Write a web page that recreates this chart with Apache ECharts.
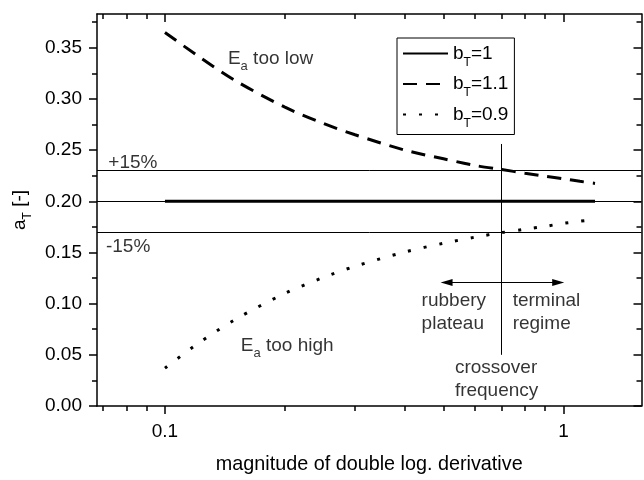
<!DOCTYPE html>
<html><head><meta charset="utf-8">
<script src="https://cdn.jsdelivr.net/npm/echarts@6/dist/echarts.min.js"></script>
<style>html,body{margin:0;padding:0;background:#fff}#c{width:644px;height:480px}</style>
</head><body><div id="c"></div>
<script>
// ---- data ----
const xValues = [0.1, 0.12, 0.15, 0.2, 0.25, 0.3, 0.4, 0.5, 0.6, 0.7, 0.8, 0.9, 1.0, 1.1, 1.2];
const aT_b1   = [0.2, 0.2, 0.2, 0.2, 0.2, 0.2, 0.2, 0.2, 0.2, 0.2, 0.2, 0.2, 0.2, 0.2, 0.2];
const aT_b11  = [0.365, 0.343, 0.318, 0.292, 0.276, 0.265, 0.250, 0.2415, 0.235, 0.231, 0.2275, 0.2245, 0.222, 0.2195, 0.2175];
const aT_b09  = [0.037, 0.060, 0.0845, 0.110, 0.1257, 0.1365, 0.1505, 0.159, 0.165, 0.1694, 0.1727, 0.1755, 0.1785, 0.1805, 0.1822];
const seriesNames = ['1', '1.1', '0.9'];
const xMajorTicks = [0.1, 1];
const xMinorTicks = [0.07, 0.08, 0.09, 0.2, 0.3, 0.4, 0.5, 0.6, 0.7, 0.8, 0.9];
const yMajorTicks = [0, 0.05, 0.1, 0.15, 0.2, 0.25, 0.3, 0.35];
const yMinorTicks = [0.025, 0.075, 0.125, 0.175, 0.225, 0.275, 0.325, 0.375];
const refLevels = [0.23, 0.2, 0.17];
const crossover = 0.7;
const crossoverSpan = [0.256, 0.05];
const arrowY = 0.1206;
const arrowSpan = [0.509, 0.97];
const annotations = [
  {x: 0.1439, y: 0.3392, text: '{m|E}{s|a}{m| too low}'},
  {x: 0.155,  y: 0.0585, text: '{m|E}{s|a}{m| too high}'},
  {x: 0.0721, y: 0.2379, text: '+15%'},
  {x: 0.0711, y: 0.1558, text: '-15%'},
  {x: 0.4406, y: 0.0919, text: 'rubbery\nplateau'},
  {x: 0.7456, y: 0.0919, text: 'terminal\nregime'},
  {x: 0.534,  y: 0.0261, text: 'crossover\nfrequency'}
];

const FONT = 'Liberation Sans, Arial, Helvetica, sans-serif';
const X_MIN = 0.06753, X_MAX = 1.5697, Y_MIN = 0, Y_MAX = 0.383;
const zip = (xs, ys) => xs.map((x, i) => [x, ys[i]]);

function xAxisCfg(pos, ticks, len, inside, withLine, withLabel) {
  return {
    type: 'log', logBase: 10, min: X_MIN, max: X_MAX, position: pos, gridIndex: 0,
    axisLine: {show: withLine, onZero: false, lineStyle: {color: '#000', width: 1.5}},
    axisTick: {show: true, inside: inside, length: len, customValues: ticks, lineStyle: {color: '#000', width: 1.5}},
    axisLabel: withLabel ? {show: true, customValues: ticks, margin: 16, color: '#000', fontSize: 19, fontFamily: FONT,
      formatter: v => String(+v.toPrecision(3))} : {show: false},
    splitLine: {show: false}, minorTick: {show: false}
  };
}
function yAxisCfg(pos, ticks, len, inside, withLine, withLabel) {
  return {
    type: 'value', min: Y_MIN, max: Y_MAX, position: pos, gridIndex: 0,
    axisLine: {show: withLine, onZero: false, lineStyle: {color: '#000', width: 1.5}},
    axisTick: {show: true, inside: inside, length: len, customValues: ticks, lineStyle: {color: '#000', width: 1.5}},
    axisLabel: withLabel ? {show: true, customValues: ticks, margin: 15, color: '#000', fontSize: 19, fontFamily: FONT,
      formatter: v => v.toFixed(2)} : {show: false},
    splitLine: {show: false}
  };
}

const xBottom = xAxisCfg('bottom', xMajorTicks, 8, false, true, true);
xBottom.name = 'magnitude of double log. derivative';
xBottom.nameLocation = 'middle';
xBottom.nameGap = 49;
xBottom.nameTextStyle = {color: '#000', fontSize: 19.8, fontFamily: FONT};

const yLeft = yAxisCfg('left', yMajorTicks, 8, false, true, true);
yLeft.name = '{m|a}{s|T}{m| [-]}';
yLeft.nameLocation = 'middle';
yLeft.nameRotate = 90;
yLeft.nameGap = 58;
yLeft.nameTextStyle = {color: '#000', fontSize: 19, fontFamily: FONT,
  rich: {m: {fontSize: 19, lineHeight: 28, fontFamily: FONT, color: '#000'},
         s: {fontSize: 12, lineHeight: 8, verticalAlign: 'bottom', fontFamily: FONT, color: '#000'}}};

const lineBase = {type: 'line', xAxisIndex: 0, yAxisIndex: 0, symbol: 'none', showSymbol: false,
  smooth: 0.3, animation: false, itemStyle: {color: '#000'}};

const option = {
  animation: false,
  backgroundColor: '#fff',
  grid: {left: 97, right: 2.5, top: 14, bottom: 64.5, containLabel: false},
  xAxis: [
    xBottom,
    xAxisCfg('bottom', xMinorTicks, 5, false, false, false),
    xAxisCfg('top', xMajorTicks, 8, true, true, false),
    xAxisCfg('top', xMinorTicks, 5, true, false, false)
  ],
  yAxis: [
    yLeft,
    yAxisCfg('left', yMinorTicks, 5, false, false, false),
    yAxisCfg('right', yMajorTicks, 8, true, true, false),
    yAxisCfg('right', yMinorTicks, 5, true, false, false)
  ],
  legend: {
    data: seriesNames, orient: 'vertical', left: 397, top: 38,
    backgroundColor: '#fff', borderColor: '#000', borderWidth: 1, borderRadius: 0,
    padding: [6, 6, 5, 5], itemGap: 6, itemWidth: 45, itemHeight: 14,
    itemStyle: {opacity: 0},
    formatter: name => '{m|b}{s|T}{m|=' + name + '}',
    textStyle: {color: '#000', fontSize: 19, fontFamily: FONT,
      rich: {m: {fontSize: 19, lineHeight: 30, fontFamily: FONT, color: '#000'},
             s: {fontSize: 12, lineHeight: 8, verticalAlign: 'bottom', fontFamily: FONT, color: '#000'}}},
    selectedMode: false
  },
  series: [
    Object.assign({}, lineBase, {name: seriesNames[0], data: zip(xValues, aT_b1), z: 4,
      lineStyle: {color: '#000', width: 3, type: 'solid'},
      markLine: {silent: true, animation: false, symbol: ['none', 'none'], label: {show: false},
        lineStyle: {color: '#000', width: 1, type: 'solid'},
        emphasis: {disabled: true},
        data: [
          ...refLevels.map(v => ({yAxis: v})),
          [{coord: [crossover, crossoverSpan[0]]}, {coord: [crossover, crossoverSpan[1]]}],
          [{coord: [arrowSpan[0], arrowY], symbol: 'triangle', symbolSize: [7, 12]},
           {coord: [arrowSpan[1], arrowY], symbol: 'triangle', symbolSize: [7, 12]}]
        ]}}),
    Object.assign({}, lineBase, {name: seriesNames[1], data: zip(xValues, aT_b11), z: 3,
      lineStyle: {color: '#000', width: 3, type: [14, 9]}}),
    Object.assign({}, lineBase, {name: seriesNames[2], data: zip(xValues, aT_b09), z: 3,
      lineStyle: {color: '#000', width: 3, type: [3, 13]}}),
    {
      name: 'annotations', type: 'scatter', xAxisIndex: 0, yAxisIndex: 0, symbolSize: 0, silent: true, animation: false,
      data: annotations.map(a => ({value: [a.x, a.y], label: {formatter: a.text}})),
      label: {show: true, position: 'right', distance: 0, color: '#000', fontSize: 19, fontFamily: FONT, lineHeight: 23,
        rich: {m: {fontSize: 19, lineHeight: 28, fontFamily: FONT, color: '#000'},
               s: {fontSize: 13, lineHeight: 9, verticalAlign: 'bottom', fontFamily: FONT, color: '#000'}}}
    }
  ]
};
const chart = echarts.init(document.getElementById('c'), null, {renderer: 'canvas'});
chart.setOption(option);
</script></body></html>
